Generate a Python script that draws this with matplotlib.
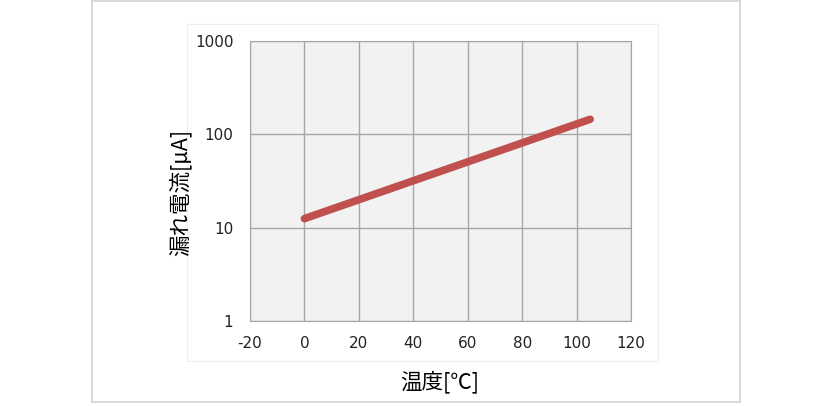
import matplotlib.pyplot as plt
from matplotlib.patches import Rectangle

plt.rcParams['font.family'] = ['Noto Sans CJK JP', 'DejaVu Sans']
plt.rcParams['axes.unicode_minus'] = False

# leakage current vs temperature
temp_c = [0, 105]
leak_ua = [12.5, 145]

x_ticks = [-20, 0, 20, 40, 60, 80, 100, 120]
y_ticks = [1, 10, 100, 1000]
y_tick_labels = ["1", "10", "100", "1000"]

W, H = 832, 407
fig = plt.figure(figsize=(W / 100, H / 100), dpi=100)

# outer frame and faint chart area
fig.patches.append(Rectangle((92 / W, 1 - 402 / H), 648 / W, 401 / H,
                             transform=fig.transFigure, fill=False,
                             edgecolor="#d9d9d9", linewidth=1.5))
fig.patches.append(Rectangle((187 / W, 1 - 361 / H), 471 / W, 337 / H,
                             transform=fig.transFigure, fill=False,
                             edgecolor="#eeeeee", linewidth=0.8))

ax = fig.add_axes([250 / W, 1 - 321 / H, 381 / W, 280 / H])
ax.set_facecolor("#f2f2f2")
ax.plot(temp_c, leak_ua, color="#c0504d", linewidth=5.5,
        solid_capstyle="round", zorder=3)

ax.set_yscale("log")
ax.set_xlim(-20, 120)
ax.set_ylim(1, 1000)
ax.set_xticks(x_ticks)
ax.set_yticks(y_ticks)
ax.set_yticklabels(y_tick_labels)
ax.minorticks_off()
ax.grid(True, color="#a6a6a6", linewidth=1.0)
for s in ax.spines.values():
    s.set_color("#a6a6a6")
ax.tick_params(length=0, labelsize=11, colors="#222222")
ax.tick_params(axis="x", pad=11)
ax.tick_params(axis="y", pad=12)
for lab in ax.get_xticklabels() + ax.get_yticklabels():
    lab.set_family("DejaVu Sans")

fig.text(180 / W, 1 - 192 / H, "漏れ電流[μA]", rotation=90,
         ha="center", va="center", fontsize=15.5)
fig.text(440 / W, 1 - 382 / H, "温度[℃]", ha="center", va="center",
         fontsize=15.5)

fig.savefig("out.png", dpi=100)
